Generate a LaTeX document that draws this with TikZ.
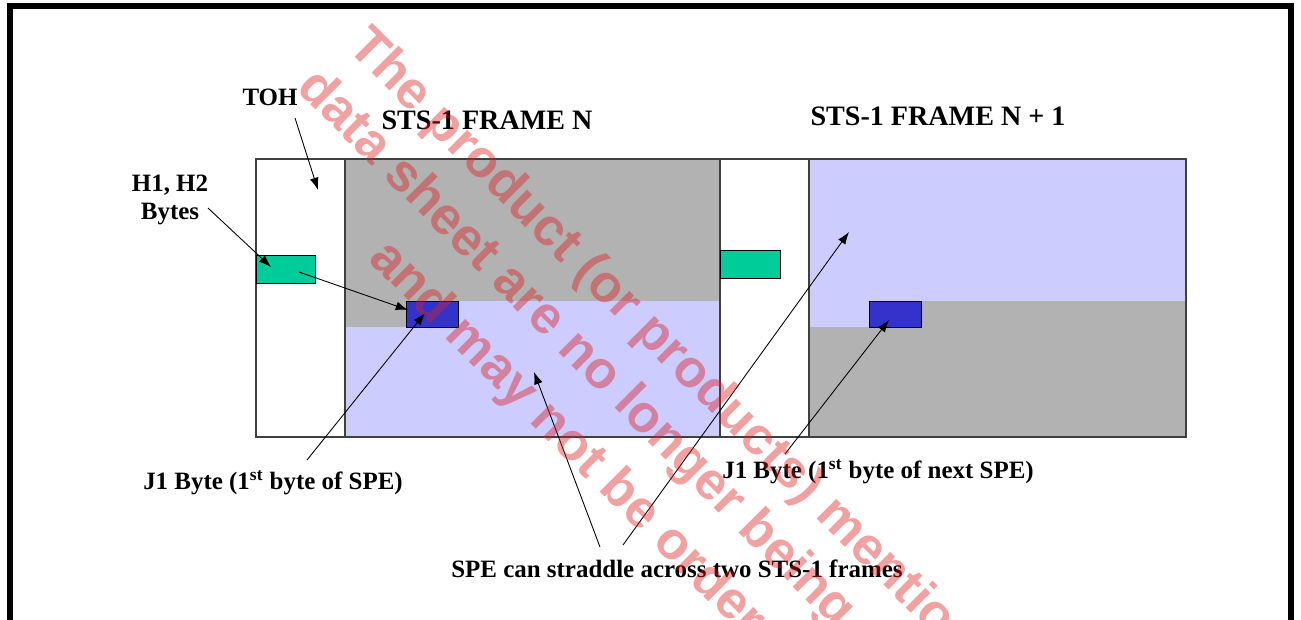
\documentclass[tikz,border=0pt]{standalone}
\usepackage{fontspec}
\setmainfont{Liberation Serif}
\newfontfamily\wmfont{Liberation Sans}
\usetikzlibrary{arrows.meta}
\definecolor{ohgray}{HTML}{B2B2B2}
\definecolor{spelav}{HTML}{CCCCFF}
\definecolor{jonefill}{HTML}{3333CC}
\definecolor{hfill}{HTML}{00CC99}
\definecolor{frameedge}{HTML}{404040}
\definecolor{wmred}{HTML}{DC1E1E}
\begin{document}
\begin{tikzpicture}[x=0.02cm,y=-0.02cm,
  every node/.style={font=\bfseries\fontsize{14.2}{16}\selectfont,inner sep=1pt},
  head/.style={font=\bfseries\fontsize{16}{18}\selectfont},
  bytebox/.style={draw=black,line width=0.6pt,inner sep=0pt,anchor=north west},
  ptr/.style={-{Latex[length=7pt,width=5pt]},line width=0.5pt},
  wm/.style={font=\wmfont\bfseries\fontsize{30}{36}\selectfont,text=wmred,text opacity=0.42,rotate=-45,anchor=mid west,inner sep=0pt}]
\useasboundingbox (0,0) rectangle (1301,619);
\clip (0,0) rectangle (1301,619);
\draw[line width=0.11cm] (10,6) rectangle (1291,700);

% frame N
\draw[frameedge,line width=0.8pt,fill=white] (256,159) rectangle (345,437);
\fill[ohgray] (345,159) rectangle (720,301) (345,301) rectangle (406,327);
\fill[spelav] (406,301) rectangle (720,327) (345,327) rectangle (720,437);
\draw[frameedge,line width=0.8pt] (345,159) rectangle (720,437);
% frame N+1
\draw[frameedge,line width=0.8pt,fill=white] (720,159) rectangle (809,437);
\fill[spelav] (809,159) rectangle (1186,301) (809,301) rectangle (869,327);
\fill[ohgray] (869,301) rectangle (1186,327) (809,327) rectangle (1186,437);
\draw[frameedge,line width=0.8pt] (809,159) rectangle (1186,437);

\node[bytebox,fill=hfill,minimum width=1.18cm,minimum height=0.56cm] (h12n) at (256,255) {};
\node[bytebox,fill=hfill,minimum width=1.2cm,minimum height=0.56cm] (h12m) at (720,250) {};
\node[bytebox,fill=jonefill,minimum width=1.04cm,minimum height=0.52cm] (j1n) at (406,301) {};
\node[bytebox,fill=jonefill,minimum width=1.04cm,minimum height=0.52cm] (j1m) at (869,301) {};

\node (toh) at (270,97) {TOH};
\node[head] (framen) at (487,120) {STS-1 FRAME N};
\node[head] (framem) at (938,116) {STS-1 FRAME N + 1};
\node[align=center] (h12) at (170,200) {H1, H2\\Bytes};
\node (j1lbl) at (273,483) {J1 Byte (1\textsuperscript{st} byte of SPE)};
\node (j1mlbl) at (878,472) {J1 Byte (1\textsuperscript{st} byte of next SPE)};
\node (straddle) at (677,569) {SPE can straddle across two STS-1 frames};

\coordinate (tohtail) at (295,118);
\coordinate (tohtip) at (318,190);
\coordinate (h12tail) at (208,208);
\coordinate (j1tail) at (307,460);
\coordinate (j1mtail) at (785,454);
\coordinate (spetaila) at (600,547);
\coordinate (spetailb) at (623,545);
\coordinate (spetipa) at (534,372);
\coordinate (spetipb) at (849,232);

\draw[ptr] (tohtail) -- (tohtip);
\draw[ptr] (h12tail) -- ([shift={(15,12)}]h12n.north west);
\draw[ptr] ([shift={(43,17)}]h12n.north west) -- ([shift={(2,9)}]j1n.north west);
\draw[ptr] (j1tail) -- ([shift={(19,12)}]j1n.north west);
\draw[ptr] (j1mtail) -- ([shift={(20,19)}]j1m.north west);
\draw[ptr] (spetaila) -- (spetipa);
\draw[ptr] (spetailb) -- (spetipb);

\node[wm] (wma) at (349,45) {The product (or products) mention};
\node[wm] (wmb) at (298,86) {data sheet are no longer being m};
\node[wm] (wmc) at (370,257) {and may not be ordere};
\end{tikzpicture}
\end{document}
